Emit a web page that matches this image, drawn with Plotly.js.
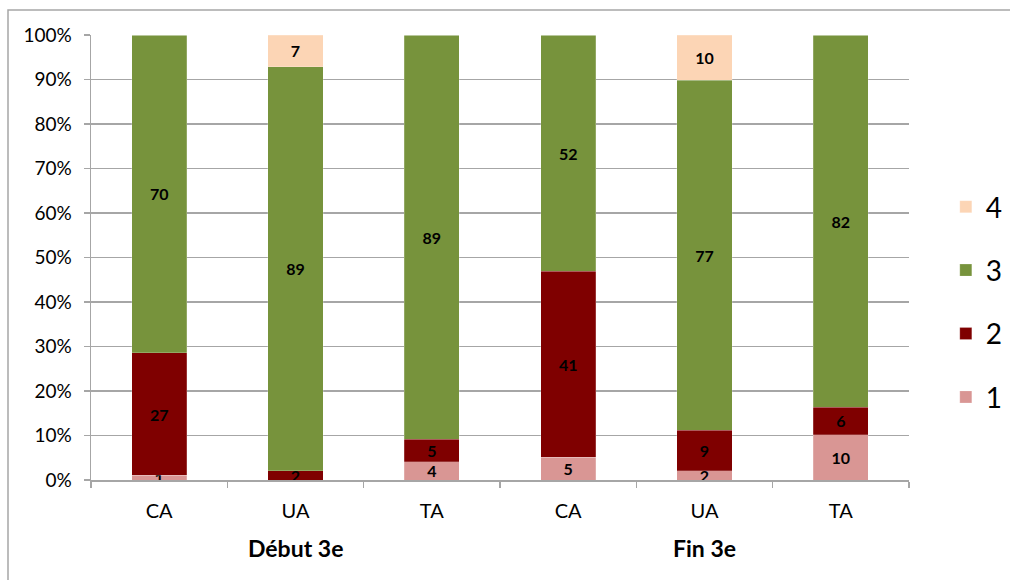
<!DOCTYPE html>
<html>
<head>
<meta charset="utf-8">
<script src="https://cdn.plot.ly/plotly-3.0.1.min.js"></script>
<style>
html,body{margin:0;padding:0;background:#fff;}
#chart{width:1010px;height:580px;}
</style>
</head>
<body>
<div id="chart"></div>
<script>
const groupNames = ['Début 3e', 'Fin 3e'];
const groups = ['Début 3e','Début 3e','Début 3e','Fin 3e','Fin 3e','Fin 3e'];
const categories = ['CA','UA','TA','CA','UA','TA'];
const seriesNames = ['1','2','3','4'];
const s1 = [1, 0, 4, 5, 2, 10];
const s2 = [27, 2, 5, 41, 9, 6];
const s3 = [70, 89, 89, 52, 77, 82];
const s4 = [0, 7, 0, 0, 10, 0];
const colors = ['#d99694', '#7f0000', '#77933c', '#fcd5b5'];
const yTickVals = [0,10,20,30,40,50,60,70,80,90,100];
const yTickText = ['0%','10%','20%','30%','40%','50%','60%','70%','80%','90%','100%'];

const keys = groups.map((g, i) => g + ' | ' + categories[i]);
const seriesValues = [s1, s2, s3, s4];
const traces = seriesValues.map((vals, i) => ({
  type: 'bar',
  name: seriesNames[i],
  legendgroup: 'g' + i,
  legendrank: seriesValues.length - i,
  x: keys,
  y: vals,
  text: vals.map(v => v > 0 ? String(v) : ''),
  textposition: 'inside',
  insidetextanchor: 'middle',
  textangle: 0,
  constraintext: 'none',
  textfont: {family: 'Lato, sans-serif', size: 16, color: '#000', weight: 'bold'},
  marker: {color: colors[i], line: {color: 'rgba(255,255,255,0.4)', width: 0.5}},
  hoverinfo: 'skip'
}));

// group labels centred under the middle category of each group
const annotations = groupNames.map(g => {
  const idx = groups.map((x, i) => x === g ? i : -1).filter(i => i >= 0);
  const mid = keys[idx[Math.floor(idx.length / 2)]];
  return {
    xref: 'x', yref: 'paper', x: mid, y: (480 - 548) / 445,
    text: '<b>' + g + '</b>', showarrow: false,
    xanchor: 'center', yanchor: 'middle',
    font: {family: 'Lato, sans-serif', size: 23, color: '#000'}
  };
});

const layout = {
  width: 1010, height: 580,
  margin: {l: 91, r: 101, t: 35, b: 100, autoexpand: false},
  paper_bgcolor: '#fff', plot_bgcolor: '#fff',
  barmode: 'stack',
  barnorm: 'percent',
  bargap: 0.595,
  font: {family: 'Lato, sans-serif', size: 16, color: '#000'},
  uniformtext: {mode: 'show', minsize: 16},
  xaxis: {
    type: 'category',
    tickvals: keys, ticktext: categories,
    showline: true, linecolor: '#a6a6a6', linewidth: 1.5,
    ticks: 'outside', ticklen: 6, tickcolor: '#a6a6a6', tickwidth: 1.5,
    tickson: 'boundaries',
    ticklabelstandoff: 12,
    tickfont: {size: 20, color: '#000'},
    showgrid: false, zeroline: false, fixedrange: true
  },
  yaxis: {
    range: [0, 100],
    tickvals: yTickVals,
    ticktext: yTickText,
    showgrid: true, gridcolor: '#a6a6a6', gridwidth: 1.5,
    showline: true, linecolor: '#a6a6a6', linewidth: 1.5,
    ticks: 'outside', ticklen: 6, tickcolor: '#a6a6a6', tickwidth: 1.5,
    ticklabelstandoff: 8,
    tickfont: {size: 19, color: '#000'},
    zeroline: false, fixedrange: true
  },
  legend: {
    x: 1.045, xanchor: 'left', y: 0.40, yanchor: 'middle',
    traceorder: 'grouped',
    tracegroupgap: 24,
    font: {size: 28, color: '#000'},
    itemwidth: 30,
    bgcolor: 'rgba(0,0,0,0)'
  },
  annotations: annotations,
  shapes: [{
    type: 'rect', xref: 'paper', yref: 'paper',
    x0: (8 - 91) / 818, x1: 1.5, y0: -0.5, y1: (480 - 10) / 445,
    line: {color: '#a6a6a6', width: 1.5}, fillcolor: 'rgba(0,0,0,0)', layer: 'below'
  }]
};

Plotly.newPlot('chart', traces, layout, {displayModeBar: false, staticPlot: true});
</script>
</body>
</html>
